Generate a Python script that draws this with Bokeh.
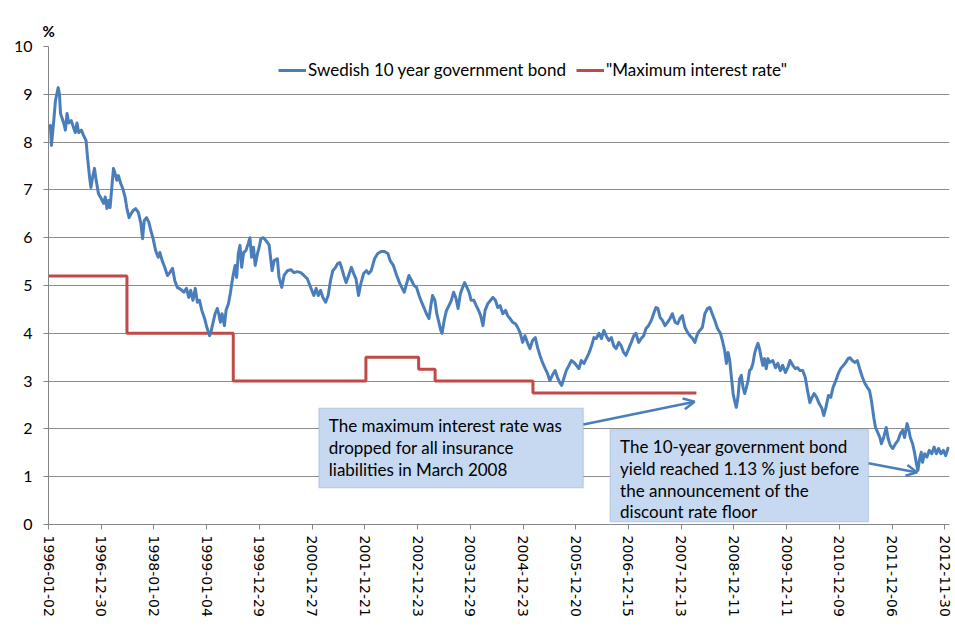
from bokeh.plotting import figure
from bokeh.models import (Range1d, FixedTicker, Legend, LegendItem, BoxAnnotation,
                          Label, Arrow, OpenHead, Title)
from bokeh.embed import file_html
from bokeh.resources import INLINE

# ---------------- data ----------------
tick_labels = ["1996-01-02", "1996-12-30", "1998-01-02", "1999-01-04", "1999-12-29",
               "2000-12-27", "2001-12-21", "2002-12-23", "2003-12-29", "2004-12-23",
               "2005-12-20", "2006-12-15", "2007-12-13", "2008-12-11", "2009-12-11",
               "2010-12-09", "2011-12-06", "2012-11-30"]
tick_step = 250  # trading days between labelled categories

bond_day = [0, 9, 14, 25, 33, 46, 52, 57, 72, 80, 88, 96, 108, 119, 127, 135, 143, 156, 166, 178,
            185, 195, 201, 209, 218, 226, 237, 250, 261, 269, 277, 284, 292, 300, 308, 316, 324, 331,
            343, 352, 363, 371, 382, 391, 402, 413, 426, 438, 446, 454, 465, 476, 485, 496, 508, 520,
            528, 539, 551, 564, 575, 588, 599, 611, 627, 642, 654, 665, 674, 685, 696, 706, 716, 727,
            740, 751, 764, 772, 779, 790, 800, 807, 815, 823, 834, 842, 853, 862, 869, 877, 885, 892,
            900, 908, 916, 925, 936, 947, 955, 963, 972, 980, 991, 999, 1007, 1019, 1031, 1046, 1060,
            1070, 1085, 1093, 1106, 1117, 1133, 1149, 1164, 1180, 1196, 1211, 1227, 1243, 1258, 1269,
            1279, 1290, 1301, 1314, 1326, 1337, 1348, 1361, 1371, 1381, 1389, 1400, 1411, 1423, 1436,
            1447, 1458, 1470, 1481, 1494, 1507, 1518, 1530, 1546, 1561, 1577, 1593, 1609, 1620, 1635,
            1651, 1664, 1675, 1687, 1698, 1709, 1722, 1733, 1745, 1757, 1769, 1782, 1792, 1804, 1813,
            1821, 1832, 1841, 1851, 1860, 1866, 1876, 1887, 1899, 1910, 1921, 1931, 1942, 1953, 1962,
            1973, 1984, 1994, 2004, 2017, 2028, 2039, 2049, 2060, 2070, 2083, 2096, 2107, 2119, 2130,
            2141, 2154, 2167, 2177, 2188, 2201, 2214, 2225, 2237, 2248, 2259, 2272, 2283, 2295, 2308,
            2319, 2330, 2342, 2355, 2366, 2377, 2389, 2402, 2413, 2424, 2433, 2445, 2455, 2468, 2479,
            2492, 2503, 2515, 2526, 2539, 2550, 2562, 2575, 2586, 2597, 2610, 2622, 2633, 2644, 2657,
            2669, 2680, 2691, 2704, 2715, 2727, 2738, 2751, 2763, 2775, 2785, 2798, 2810, 2822, 2833,
            2845, 2858, 2869, 2880, 2889, 2900, 2911, 2923, 2935, 2947, 2958, 2971, 2983, 2994, 3005,
            3018, 3030, 3041, 3054, 3065, 3078, 3088, 3100, 3112, 3125, 3136, 3147, 3159, 3172, 3186,
            3195, 3206, 3214, 3222, 3230, 3238, 3246, 3253, 3261, 3269, 3277, 3285, 3293, 3301, 3309,
            3317, 3324, 3332, 3340, 3348, 3356, 3364, 3371, 3379, 3387, 3395, 3403, 3411, 3418, 3434,
            3447, 3458, 3470, 3481, 3494, 3505, 3516, 3529, 3541, 3552, 3563, 3576, 3588, 3599, 3610,
            3620, 3630, 3642, 3654, 3667, 3676, 3686, 3698, 3709, 3720, 3733, 3745, 3756, 3769, 3780,
            3791, 3800, 3811, 3824, 3835, 3846, 3859, 3871, 3882, 3893, 3902, 3913, 3921, 3932, 3942,
            3949, 3960, 3972, 3981, 3992, 4003, 4016, 4028, 4039, 4050, 4059, 4071, 4078, 4086, 4097,
            4106, 4114, 4122, 4129, 4138, 4144, 4154, 4165, 4176, 4188, 4199, 4210, 4220, 4232, 4243,
            4254, 4267]

bond_yield = [8.3, 8.35, 7.93, 8.45, 8.87, 9.14, 9.0, 8.6, 8.4, 8.25, 8.6, 8.4, 8.45, 8.3, 8.2, 8.4,
              8.2, 8.25, 8.14, 8.03, 7.68, 7.26, 7.05, 7.26, 7.45, 7.2, 6.92, 6.82, 6.72, 6.85, 6.61,
              6.78, 6.63, 7.05, 7.45, 7.34, 7.2, 7.3, 7.13, 7.03, 6.85, 6.63, 6.42, 6.5, 6.57, 6.61,
              6.53, 6.3, 5.98, 6.36, 6.42, 6.32, 6.15, 5.98, 5.73, 5.59, 5.69, 5.52, 5.38, 5.21, 5.27,
              5.36, 5.1, 4.96, 4.92, 4.86, 4.94, 4.75, 4.9, 4.69, 4.94, 4.65, 4.69, 4.48, 4.31, 4.12,
              3.95, 4.06, 4.2, 4.41, 4.52, 4.41, 4.23, 4.41, 4.16, 4.48, 4.62, 4.83, 5.04, 5.25, 5.42,
              5.17, 5.67, 5.84, 5.38, 5.69, 5.73, 5.88, 6.0, 5.59, 5.8, 5.42, 5.67, 5.8, 5.98, 6.0,
              5.94, 5.85, 5.31, 5.52, 5.56, 5.17, 4.96, 5.21, 5.31, 5.33, 5.27, 5.29, 5.27, 5.21, 5.14,
              4.96, 4.79, 4.94, 4.79, 4.9, 4.75, 4.65, 4.79, 5.1, 5.31, 5.38, 5.46, 5.48, 5.38, 5.21,
              5.06, 5.21, 5.38, 5.25, 5.14, 4.79, 5.04, 5.25, 5.31, 5.25, 5.31, 5.56, 5.67, 5.71, 5.71,
              5.67, 5.52, 5.42, 5.21, 5.06, 4.96, 4.86, 5.04, 5.21, 5.1, 5.0, 4.96, 4.79, 4.65, 4.52,
              4.41, 4.31, 4.58, 4.79, 4.69, 4.41, 4.23, 4.06, 4.0, 4.27, 4.48, 4.58, 4.69, 4.86, 4.75,
              4.52, 4.83, 4.94, 5.06, 4.96, 4.86, 4.69, 4.69, 4.58, 4.48, 4.37, 4.16, 4.48, 4.62, 4.69,
              4.75, 4.69, 4.54, 4.58, 4.41, 4.48, 4.37, 4.31, 4.23, 4.2, 4.12, 4.0, 3.81, 3.95, 3.79,
              3.68, 3.85, 3.91, 3.7, 3.54, 3.39, 3.26, 3.16, 3.01, 3.12, 3.22, 3.08, 2.97, 2.91, 3.08,
              3.22, 3.33, 3.43, 3.39, 3.33, 3.26, 3.43, 3.37, 3.47, 3.58, 3.74, 3.91, 3.89, 4.0, 3.89,
              4.06, 3.95, 3.85, 3.91, 3.74, 3.68, 3.81, 3.74, 3.6, 3.54, 3.68, 3.81, 3.95, 4.0, 3.81,
              3.89, 3.95, 4.1, 4.16, 4.27, 4.41, 4.54, 4.52, 4.33, 4.27, 4.16, 4.23, 4.31, 4.41, 4.23,
              4.2, 4.31, 4.37, 4.12, 4.02, 3.95, 3.89, 3.81, 4.0, 4.06, 4.12, 4.41, 4.52, 4.54, 4.41,
              4.27, 4.1, 4.0, 3.85, 3.64, 3.37, 3.6, 3.43, 3.08, 2.74, 2.59, 2.45, 2.66, 3.05, 3.12,
              2.87, 2.74, 2.87, 3.01, 3.22, 3.26, 3.37, 3.58, 3.7, 3.79, 3.68, 3.49, 3.33, 3.47, 3.26,
              3.47, 3.39, 3.43, 3.28, 3.37, 3.22, 3.33, 3.18, 3.28, 3.43, 3.33, 3.26, 3.28, 3.22, 3.22,
              3.08, 2.8, 2.55, 2.66, 2.74, 2.66, 2.53, 2.43, 2.28, 2.45, 2.7, 2.66, 2.87, 3.01, 3.16,
              3.26, 3.33, 3.39, 3.47, 3.49, 3.43, 3.39, 3.43, 3.26, 3.08, 2.95, 2.87, 2.8, 2.59, 2.24,
              2.03, 1.92, 1.82, 1.69, 1.82, 2.03, 1.8, 1.65, 1.59, 1.69, 1.76, 1.9, 1.97, 1.82, 2.11,
              2.0, 1.82, 1.69, 1.51, 1.3, 1.13, 1.34, 1.51, 1.3, 1.48, 1.41, 1.55, 1.48, 1.62, 1.48,
              1.59, 1.48, 1.55, 1.44, 1.62]

cap_day = [0, 372, 876, 1505, 1755, 1833, 2297, 3072]
cap_rate = [5.2, 4.0, 3.0, 3.5, 3.25, 3.0, 2.75, 2.75]

BLUE = "#4A7EBB"
RED = "#BE4B48"
GRID = "#8C8C8C"
BOX_FILL = "#C6D9F1"
BOX_LINE = "#7F9FCF"
FONT = "Lato"

p = figure(width=955, height=630, output_backend="svg", toolbar_location=None,
           x_range=Range1d(0, 4272), y_range=Range1d(0, 10),
           min_border_left=48, min_border_right=6, min_border_top=46, min_border_bottom=106)
p.outline_line_color = None
p.background_fill_color = "white"
p.border_fill_color = "white"

p.title = Title(text="%", align="left", offset=-6, standoff=14, text_font=FONT,
                text_font_size="15px", text_font_style="bold", text_color="#000000")

cap = p.step(cap_day, cap_rate, mode="after", line_color=RED, line_width=3)
bond = p.line(bond_day, bond_yield, line_color=BLUE, line_width=3, line_join="round")

# axes
p.xgrid.visible = False
p.ygrid.grid_line_color = GRID
p.ygrid.grid_line_width = 1
p.yaxis.ticker = FixedTicker(ticks=list(range(0, 11)))
p.xaxis.ticker = FixedTicker(ticks=[i * tick_step for i in range(len(tick_labels))])
p.xaxis.major_label_overrides = {i * tick_step: lab for i, lab in enumerate(tick_labels)}
p.xaxis.major_label_orientation = "vertical"
for ax in (p.xaxis[0], p.yaxis[0]):
    ax.axis_line_color = "#868686"
    ax.major_tick_line_color = "#868686"
    ax.major_tick_out = 5
    ax.major_tick_in = 0
    ax.minor_tick_out = 0
    ax.minor_tick_in = 0
    ax.major_label_text_color = "#000000"
p.xaxis.major_label_text_font = "DejaVu Sans"
p.xaxis.major_label_text_font_size = "14px"
p.xaxis.major_label_standoff = 6
p.yaxis.major_label_text_font = FONT
p.yaxis.major_label_text_font_size = "16px"
p.yaxis.major_label_standoff = 11

legend = Legend(items=[LegendItem(label="Swedish 10 year government bond", renderers=[bond]),
                       LegendItem(label='"Maximum interest rate"', renderers=[cap])],
                orientation="horizontal", location=(230, 444), padding=0, margin=0,
                spacing=10, glyph_width=28, label_standoff=2,
                label_text_font=FONT, label_text_font_size="17px", label_text_color="#000000",
                border_line_color=None, background_fill_alpha=0)
p.add_layout(legend, "center")

# annotation boxes
p.add_layout(BoxAnnotation(left=1282, right=2536, bottom=0.77, top=2.43,
                           fill_color=BOX_FILL, fill_alpha=1, line_color=BOX_LINE, line_width=1.5))
p.add_layout(BoxAnnotation(left=2663, right=3888, bottom=0.06, top=1.99,
                           fill_color=BOX_FILL, fill_alpha=1, line_color=BOX_LINE, line_width=1.5))

note1 = ["The maximum interest rate was", "dropped for all insurance", "liabilities in March 2008"]
for i, t in enumerate(note1):
    p.add_layout(Label(x=1329, y=2.07 - i * 0.455, text=t, text_baseline="middle",
                       text_font=FONT, text_font_size="17px", text_color="#000000"))
note2 = ["The 10-year government bond", "yield reached 1.13 % just before",
         "the announcement of the", "discount rate floor"]
for i, t in enumerate(note2):
    p.add_layout(Label(x=2710, y=1.63 - i * 0.455, text=t, text_baseline="middle",
                       text_font=FONT, text_font_size="17px", text_color="#000000"))

p.add_layout(Arrow(x_start=2536, y_start=2.09, x_end=3063, y_end=2.57, line_color=BLUE,
                   line_width=2.5, end=OpenHead(size=11, line_color=BLUE, line_width=2.5)))
p.add_layout(Arrow(x_start=3888, y_start=1.28, x_end=4119, y_end=1.09, line_color=BLUE,
                   line_width=2.5, end=OpenHead(size=11, line_color=BLUE, line_width=2.5)))

open("out.html", "w").write(file_html(p, INLINE))
